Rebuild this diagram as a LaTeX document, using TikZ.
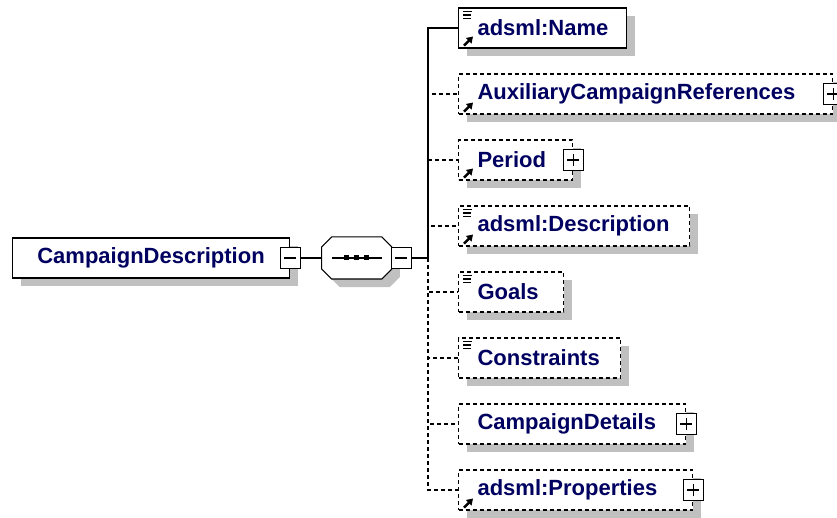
\documentclass[tikz,border=0pt]{standalone}
\usepackage{fontspec}
\setmainfont{Liberation Sans}
\usepackage{tikz}
\usetikzlibrary{positioning,arrows.meta,shadows}
\definecolor{xsdtext}{RGB}{0,0,96}
\definecolor{xsdshade}{RGB}{192,192,192}

\begin{document}
\begin{tikzpicture}[x=1pt, y=-1pt, line width=1.1pt, every node/.style={font=\bfseries\fontsize{22}{26}\selectfont, text=xsdtext}, shade/.style={general shadow={fill=xsdshade, shadow xshift=8pt, shadow yshift=-8pt}}, box/.style={draw, fill=white, anchor=west, minimum height=40pt, shade}, elem/.style={box, inner xsep=0pt, text width=#1, align=left, execute at begin node=\hspace*{19pt}}, optelem/.style={elem=#1, dash pattern=on 4pt off 3pt}, opt/.style={dash pattern=on 4pt off 3pt}, tog/.style={draw, solid, fill=white, minimum width=20pt, minimum height=21pt, inner sep=0pt}, minus/.style={tog, path picture={\draw ([xshift=-6pt]path picture bounding box.center) -- ([xshift=6pt]path picture bounding box.center);}}, plus/.style={tog, path picture={\draw ([xshift=-6pt]path picture bounding box.center) -- ([xshift=6pt]path picture bounding box.center); \draw ([yshift=-6pt]path picture bounding box.center) -- ([yshift=6pt]path picture bounding box.center);}}, seqbox/.style={minimum width=69pt, minimum height=41pt, inner sep=0pt}]
\useasboundingbox (0,0) rectangle (837,518);
\node[box, minimum width=277pt] (root) at (12,258) {CampaignDescription};
\node[minus] (roottog) at (root.east) {};
\node[seqbox, right=21pt of roottog] (seq) {};
% octagon of the sequence compositor
\draw[fill=white, shade] ([xshift=10pt]seq.north west) -- ([xshift=-10pt]seq.north east) -- ([yshift=-10pt]seq.north east) -- ([yshift=10pt]seq.south east) -- ([xshift=-10pt]seq.south east) -- ([xshift=10pt]seq.south west) -- ([yshift=10pt]seq.south west) -- ([yshift=-10pt]seq.north west) -- cycle;
\draw ([xshift=-25pt]seq.center) -- ([xshift=25pt]seq.center);
\foreach \dx in {-10,0,10} \fill[black] ([shift={(\dx-2.5,-2.5)}]seq.center) rectangle +(5,5);
\node[minus, anchor=west] (seqtog) at ([xshift=-1pt]seq.east) {};
\coordinate (bus) at (428,258);
% children of the sequence
\node[elem=168pt] (name) at (458,28) {adsml:Name};
\node[optelem=374pt] (aux) at (458,94) {AuxiliaryCampaignReferences};
\node[optelem=114pt] (period) at (458,160) {Period};
\node[optelem=231pt] (desc) at (458,226) {adsml:Description};
\node[optelem=105pt] (goals) at (458,292) {Goals};
\node[optelem=162pt] (constr) at (458,358) {Constraints};
\node[optelem=227pt] (details) at (458,424) {CampaignDetails};
\node[optelem=234pt] (props) at (458,490) {adsml:Properties};
\foreach \n in {aux,period,details,props} \node[plus] (\n tog) at (\n.east) {};
% ref and text icons
\foreach \n in {name,aux,period,desc,props} \draw[line width=2.4pt, -{Triangle[length=6pt,width=7.5pt]}] ([shift={(6,-3)}]\n.south west) -- ++(9,-9);
\foreach \n in {name,desc,goals,constr} \foreach \dy/\w in {4/9,7.5/8,11/8} \draw[line width=1.3pt] ([shift={(5,\dy)}]\n.north west) -- ++(\w,0);
\draw (roottog) -- (seq); \draw (seqtog) -- (bus); \draw (bus) |- (name.west);
\foreach \n in {aux,period,desc,goals,constr,details,props} \draw[opt] (bus) |- (\n.west);
\end{tikzpicture}
\end{document}
